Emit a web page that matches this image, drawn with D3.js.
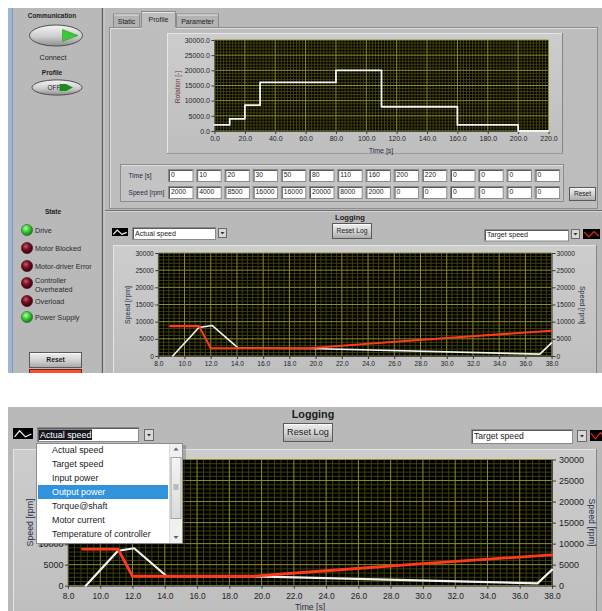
<!DOCTYPE html>
<html><head><meta charset="utf-8">
<script src="https://cdn.jsdelivr.net/npm/d3@7/dist/d3.min.js"></script>
<style>
html,body{margin:0;padding:0;background:#fff;overflow:hidden}
svg{display:block;font-family:"Liberation Sans",Arial,sans-serif}
</style></head><body>
<svg id="c" width="602" height="611"></svg>
<script>
// ---------------- data ----------------
const profileTime  = [0, 10, 20, 30, 50, 80, 110, 160, 200, 220, 0, 0, 0, 0];
const profileSpeed = [2000, 4000, 8500, 16000, 16000, 20000, 8000, 2000, 0, 0, 0, 0, 0, 0];
const profileXTicks = [0, 20, 40, 60, 80, 100, 120, 140, 160, 180, 200, 220];
const profileYTicks = [0, 5000, 10000, 15000, 20000, 25000, 30000];
const logXTicks = [8, 10, 12, 14, 16, 18, 20, 22, 24, 26, 28, 30, 32, 34, 36, 38];
const logYTicks = [0, 5000, 10000, 15000, 20000, 25000, 30000];
const actualTime  = [9.1, 11.1, 12.1, 14.1, 19.5, 37.1, 38.0];
const actualSpeed = [0, 8300, 8900, 2300, 2200, 550, 3800];
const targetTime  = [8.9, 11.1, 12.0, 19.5, 24.0, 30.0, 38.0];
const targetSpeed = [8700, 8700, 2250, 2250, 3550, 5250, 7350];
const stateLabels = ["Drive", "Motor Blocked", "Motor-driver Error", "Controller|Overheated", "Overload", "Power Supply"];
const stateOn     = [true, false, false, false, false, true];
const tabLabels   = ["Static", "Profile", "Parameter"];
const channelItems = ["Actual speed", "Target speed", "Input power", "Output power", "Torque@shaft", "Motor current", "Temperature of controller"];
const leftChannel = "Actual speed";
const rightChannel = "Target speed";
const highlightedItem = "Output power";

// ---------------- helpers ----------------
const svg = d3.select("#c");
const defs = svg.append("defs");
function lg(id, stops){
  const g = defs.append("linearGradient").attr("id", id).attr("x1",0).attr("y1",0).attr("x2",0).attr("y2",1);
  stops.forEach(([o,c]) => g.append("stop").attr("offset", o).attr("stop-color", c));
}
function rg(id, stops){
  const g = defs.append("radialGradient").attr("id", id).attr("cx","40%").attr("cy","35%").attr("r","65%");
  stops.forEach(([o,c]) => g.append("stop").attr("offset", o).attr("stop-color", c));
}
lg("btn", [[0,"#efefef"],[0.5,"#d4d4d4"],[1,"#a8a8a8"]]);
lg("oval", [[0,"#f4f4f4"],[0.55,"#cdcdcd"],[1,"#8e8e8e"]]);
lg("frame", [[0,"#cdcdcd"],[1,"#bebebe"]]);
lg("thumb", [[0,"#f4f4f4"],[1,"#dadada"]]);
lg("redbar", [[0,"#ff5a3a"],[1,"#e8321c"]]);
rg("ledG", [[0,"#b8ffb0"],[0.45,"#3fd23f"],[1,"#157a15"]]);
rg("ledR", [[0,"#c85a6a"],[0.45,"#7a1024"],[1,"#3a0010"]]);

function rect(p,x,y,w,h,fill,stroke,sw){
  const r = p.append("rect").attr("x",x).attr("y",y).attr("width",w).attr("height",h).attr("fill",fill||"none");
  if(stroke) r.attr("stroke",stroke).attr("stroke-width",sw||1);
  return r;
}
function line(p,x1,y1,x2,y2,c,w){
  return p.append("line").attr("x1",x1).attr("y1",y1).attr("x2",x2).attr("y2",y2).attr("stroke",c).attr("stroke-width",w||1);
}
function txt(p,x,y,s,size,opt){
  opt = opt||{};
  const t = p.append("text").attr("x",x).attr("y",y).text(s).attr("font-size",size)
    .attr("fill",opt.fill||"#1c1c1c").attr("text-anchor",opt.anchor||"start");
  if(opt.bold) t.attr("font-weight","bold");
  if(opt.rotate!==undefined) t.attr("transform",`rotate(${opt.rotate},${x},${y})`);
  return t;
}
function bevel(p,x,y,w,h,fill,light,dark){
  rect(p,x,y,w,h,fill);
  line(p,x,y+0.5,x+w,y+0.5,light);
  line(p,x+0.5,y,x+0.5,y+h,light);
  line(p,x,y+h-0.5,x+w,y+h-0.5,dark);
  line(p,x+w-0.5,y,x+w-0.5,y+h,dark);
}
function button(p,x,y,w,h,label,size,bold){
  rect(p,x+0.5,y+0.5,w,h,"url(#btn)","#5a5a5a",1);
  line(p,x+1.5,y+1.5,x+w-0.5,y+1.5,"#fafafa");
  txt(p,x+w/2+0.5,y+h/2+size*0.36,label,size,{anchor:"middle",bold:bold});
}
function textbox(p,x,y,w,h,label,size){
  rect(p,x+0.5,y+0.5,w,h,"#ffffff","#8a8a8a",1);
  line(p,x+1,y+1.5,x+w,y+1.5,"#5a5a5a",1);
  line(p,x+1.5,y+1,x+1.5,y+h,"#5a5a5a",1);
  if(label!==null && label!==undefined) txt(p,x+3,y+h/2+size*0.36,label,size);
}
function arrowBox(p,x,y,w,h){
  rect(p,x+0.5,y+0.5,w,h,"#d8d8d8","#6a6a6a",1);
  const cx=x+w/2+0.5, cy=y+h/2+0.5;
  p.append("path").attr("d",`M${cx-2},${cy-1} L${cx+2},${cy-1} L${cx},${cy+1.5} Z`).attr("fill","#333");
}
function legendIcon(p,x,y,w,h,color,shape){
  rect(p,x,y,w,h,"#000");
  const pts = shape.map(([a,b]) => [x+a*w, y+b*h]);
  p.append("path").attr("d", d3.line()(pts)).attr("fill","none").attr("stroke",color).attr("stroke-width",1.2);
}
function led(p,cx,cy,on){
  p.append("circle").attr("cx",cx).attr("cy",cy).attr("r",5.6).attr("fill",on?"url(#ledG)":"url(#ledR)")
    .attr("stroke",on?"#2a6a2a":"#3a0a12").attr("stroke-width",0.6);
}

function plot(p,c){
  const x = d3.scaleLinear().domain(c.xDom).range([c.l,c.r]);
  const y = d3.scaleLinear().domain(c.yDom).range([c.b,c.t]);
  rect(p,c.l,c.t,c.r-c.l,c.b-c.t,"#000");
  const minor = (ticks,n) => { const out=[]; for(let i=0;i<ticks.length-1;i++){ for(let k=1;k<n;k++) out.push(ticks[i]+(ticks[i+1]-ticks[i])*k/n);} return out; };
  const g = p.append("g");
  minor(c.xTicks,c.xSub).forEach(v => line(g,x(v),c.t,x(v),c.b,"#454510",0.9));
  minor(c.yTicks,c.ySub).forEach(v => line(g,c.l,y(v),c.r,y(v),"#454510",0.9));
  c.xTicks.forEach(v => line(g,x(v),c.t,x(v),c.b,"#8e8e2a",1));
  c.yTicks.forEach(v => line(g,c.l,y(v),c.r,y(v),"#8e8e2a",1));
  const style = (ga,fs) => {
    ga.select(".domain").attr("stroke","#4a4a4a");
    ga.selectAll(".tick line").attr("stroke","#3a3a3a");
    ga.selectAll("text").attr("font-size",fs).attr("fill","#1e1e1e").attr("font-family","'Liberation Sans',Arial,sans-serif");
  };
  const gx = p.append("g").attr("transform",`translate(0,${c.b})`)
    .call(d3.axisBottom(x).tickValues(c.xTicks).tickFormat(c.fx).tickSize(3).tickSizeOuter(0).tickPadding(c.xPad||2));
  style(gx,c.fsx||c.fs);
  const gy = p.append("g").attr("transform",`translate(${c.l},0)`)
    .call(d3.axisLeft(y).tickValues(c.yTicks).tickFormat(c.fy).tickSize(3).tickSizeOuter(0).tickPadding(1.5));
  style(gy,c.fs);
  // labels covered by an overlay (the open drop-down list) are not shown
  if(c.coverAbove!==undefined) gy.selectAll(".tick").filter(v => y(v) < c.coverAbove).select("text").remove();
  if(c.right){
    const gr = p.append("g").attr("transform",`translate(${c.r},0)`)
      .call(d3.axisRight(y).tickValues(c.yTicks).tickFormat(c.fy).tickSize(4).tickSizeOuter(0).tickPadding(c.rPad||0.5));
    style(gr,c.fs);
  }
  c.series.forEach(s => {
    p.append("path").datum(s.pts)
      .attr("d", d3.line().curve(s.curve||d3.curveLinear).x(d=>x(d[0])).y(d=>y(d[1])))
      .attr("fill","none").attr("stroke",s.color).attr("stroke-width",s.w)
      .attr("stroke-linejoin","round").attr("stroke-linecap","round");
  });
  return {x,y};
}

// profile points actually used (time strictly increasing)
const usedProfile = [];
for(let i=0;i<profileTime.length;i++){ if(i>0 && profileTime[i]<=profileTime[i-1]) break; usedProfile.push([profileTime[i],profileSpeed[i]]); }
const actualPts = d3.zip(actualTime, actualSpeed);
const targetPts = d3.zip(targetTime, targetSpeed);
const fmt1 = d3.format(".1f");
const fmt0 = d3.format("d");
const zigW = [[0.08,0.8],[0.33,0.25],[0.62,0.8],[0.92,0.55]];
const zigR = [[0.06,0.3],[0.35,0.8],[0.65,0.25],[0.94,0.7]];

// ================= TOP SCREENSHOT =================
defs.append("clipPath").attr("id","clipT").append("rect").attr("x",8).attr("y",8).attr("width",594).attr("height",365);
defs.append("clipPath").attr("id","clipB").append("rect").attr("x",8).attr("y",407).attr("width",594).attr("height",204);
const T = svg.append("g").attr("clip-path","url(#clipT)");
rect(T,8,8,594,365,"#b9b9b9");
rect(T,8,8,4.5,365,"#9db7d4");
line(T,12.5,8,12.5,373,"#7f99b8",1);
line(T,102.5,8,102.5,373,"#5e5e5e",1.3);
line(T,104,8,104,373,"#d2d2d2",1);

// left panel: communication
txt(T,52,18,"Communication",6.4,{anchor:"middle",bold:true});
T.append("ellipse").attr("cx",56).attr("cy",35.5).attr("rx",26.5).attr("ry",10.5).attr("fill","url(#oval)").attr("stroke","#4e4e4e").attr("stroke-width",1);
T.append("path").attr("d","M62.5,29.5 L78,35.5 L62.5,41.5 Z").attr("fill","#3cc83c").attr("stroke","#2a9a2a").attr("stroke-width",0.6).attr("stroke-linejoin","round");
txt(T,53,60,"Connect",7.2,{anchor:"middle"});
txt(T,52,75,"Profile",6.6,{anchor:"middle",bold:true});
T.append("ellipse").attr("cx",57).attr("cy",87.5).attr("rx",25).attr("ry",7.6).attr("fill","url(#oval)").attr("stroke","#4e4e4e").attr("stroke-width",1);
txt(T,54,90,"OFF",6.4,{anchor:"middle"});
T.append("path").attr("d","M59.5,84 L66,84 L73,87.5 L66,91 L59.5,91 Z").attr("fill","#1f8a1f");

// state
txt(T,53,214,"State",6.6,{anchor:"middle",bold:true});
const stateY = [230, 248, 266, 283, 301, 317];
stateLabels.forEach((s,i) => {
  led(T,27,stateY[i],stateOn[i]);
  const parts = s.split("|");
  if(parts.length===1) txt(T,35,stateY[i]+2.6,s,7.2,{fill:"#2a2a2a"});
  else { txt(T,35,stateY[i]-0.5,parts[0],7.2,{fill:"#2a2a2a"}); txt(T,35,stateY[i]+8.5,parts[1],7.2,{fill:"#2a2a2a"}); }
});
button(T,29,352,52,15,"Reset",6.8,true);
rect(T,29.5,369.5,52,8,"url(#redbar)","#7a1a10",1);

// tabs
const tabX = [113, 141, 176], tabW = [26, 34, 42];
tabLabels.forEach((s,i) => {
  const sel = i===1;
  const ty = sel?11:13.5;
  rect(T,tabX[i]+0.5,ty+0.5,tabW[i],28-ty,sel?"#bebebe":"#b3b3b3","#8a8a8a",1);
  line(T,tabX[i]+1,ty+1.5,tabX[i]+tabW[i],ty+1.5,"#e4e4e4");
  txt(T,tabX[i]+tabW[i]/2+0.5,sel?22:24,s,7,{anchor:"middle"});
});
rect(T,109.5,27.5,488,181,"#bdbdbd","#8c8c8c",1);
line(T,110.5,28.5,597,28.5,"#dedede");
line(T,110.5,28.5,110.5,208,"#dedede");
rect(T,141.5,27,34,2.5,"#bebebe");
line(T,105,210.5,602,210.5,"#6c6c6c",1);
line(T,105,211.5,602,211.5,"#d6d6d6",1);

// profile chart
bevel(T,167,33,396,121,"url(#frame)","#e6e6e6","#858585");
line(T,168,153.5,563,153.5,"#9a9a9a");
plot(T,{l:214.5,r:548.5,t:40,b:131,xDom:[0,220],yDom:[0,30000],xTicks:profileXTicks,yTicks:profileYTicks,
  xSub:10,ySub:5,fx:fmt1,fy:fmt1,fs:7,
  series:[{pts:usedProfile,color:"#f4f4f4",w:1.8,curve:d3.curveStepAfter}]});
txt(T,179.5,87,"Rotation [-]",6.6,{anchor:"middle",rotate:-90,fill:"#6a3a34"});
txt(T,381,153,"Time [s]",7,{anchor:"middle",fill:"#2a2f48"});

// table
rect(T,120.5,164.5,443,37,"#c4c4c4","#8c8c8c",1);
line(T,121.5,165.5,563,165.5,"#e0e0e0");
txt(T,128.5,178,"Time [s]",6.6,{fill:"#262c48"});
txt(T,128.5,195,"Speed [rpm]",6.6,{fill:"#262c48"});
profileTime.forEach((v,i) => textbox(T,168+i*28.2,169,24.5,12,String(v),6.8));
profileSpeed.forEach((v,i) => textbox(T,168+i*28.2,186,24.5,12,String(v),6.8));
button(T,569,187,26,13,"Reset",6.6,false);

// logging header
txt(T,350,219.5,"Logging",7.6,{anchor:"middle",bold:true});
button(T,332,223,39,15,"Reset Log",6.8,false);
legendIcon(T,112,228,16,8,"#f0f0f0",zigW);
textbox(T,132,227,83,12,leftChannel,7.1);
arrowBox(T,218,228,8,9);
textbox(T,484,229,84,11.5,rightChannel,7.1);
arrowBox(T,571,229,8,9);
legendIcon(T,583,229,17,10,"#e8281a",zigR);

// logging chart (top)
bevel(T,113,245,484,140,"url(#frame)","#e4e4e4","#858585");
plot(T,{l:158.3,r:551.6,t:253,b:356,xDom:[8,38],yDom:[0,30000],xTicks:logXTicks,yTicks:logYTicks,
  xSub:5,ySub:5,fx:fmt1,fy:fmt0,fs:6.6,right:true,rPad:1,
  series:[{pts:actualPts,color:"#f2f2f2",w:1.6},{pts:targetPts,color:"#ff3a1c",w:2.1}]});
txt(T,130,305,"Speed [rpm]",7,{anchor:"middle",rotate:-90,fill:"#262c48"});
txt(T,580,305,"Speed [rpm]",7,{anchor:"middle",rotate:90,fill:"#262c48"});
txt(T,355,379,"Time [s]",7,{anchor:"middle",fill:"#2a2f48"});

// ================= BOTTOM SCREENSHOT =================
const B = svg.append("g").attr("clip-path","url(#clipB)");
rect(B,8,407,594,204,"#b9b9b9");
txt(B,313,417.5,"Logging",10.8,{anchor:"middle",bold:true});
button(B,283,423,49,18,"Reset Log",9.2,false);
legendIcon(B,13,428,20,11,"#f0f0f0",zigW);
textbox(B,37,427,101,14,null,9);
rect(B,39,429.5,53,10.5,"#161620");
txt(B,40,438,leftChannel,8.9,{fill:"#ffffff"});
arrowBox(B,144,429,9,11);
textbox(B,471,429,101,14,rightChannel,8.6);
arrowBox(B,577,430,9,11);
legendIcon(B,590,430,16,11,"#e8281a",zigR);

bevel(B,13,449,584,170,"url(#frame)","#e4e4e4","#858585");
plot(B,{l:68,r:552,t:459.5,b:585.7,xDom:[8,38],yDom:[0,30000],xTicks:logXTicks,yTicks:logYTicks,
  xSub:5,ySub:5,fx:fmt1,fy:fmt0,fs:9,fsx:8.4,xPad:4,right:true,rPad:3,coverAbove:541,
  series:[{pts:actualPts,color:"#f2f2f2",w:2.2},{pts:targetPts,color:"#ff3a1c",w:2.8}]});
txt(B,33,522.5,"Speed [rpm]",8.8,{anchor:"middle",rotate:-90,fill:"#262c48"});
txt(B,589,522.5,"Speed [rpm]",8.8,{anchor:"middle",rotate:90,fill:"#262c48"});
txt(B,310,609.5,"Time [s]",8.6,{anchor:"middle",fill:"#2a2f48"});

// drop-down menu (open list over the chart)
rect(B,38,445,148,101,"rgba(0,0,0,0.18)");
rect(B,36.5,443.5,146,100,"#ffffff","#8c8c8c",1);
channelItems.forEach((s,i) => {
  const cy = 450 + i*14;
  const hi = s===highlightedItem;
  if(hi) rect(B,38,cy-7,130,14,"#3193db");
  txt(B,52,cy+3.2,s,8.9,{fill:hi?"#ffffff":"#1c1c1c"});
});
rect(B,169.5,444,12.5,99,"#f0f0f0");
line(B,169.5,444,169.5,543,"#dcdcdc");
B.append("path").attr("d","M173.5,450.5 L178.5,450.5 L176,447.5 Z").attr("fill","#606060");
B.append("path").attr("d","M173.5,536 L178.5,536 L176,539 Z").attr("fill","#606060");
rect(B,171,457.5,10,61,"url(#thumb)","#a4a4a4",1);
[485,487,489].forEach(yy => line(B,173.5,yy,178.5,yy,"#7a7a7a",0.8));
</script>
</body></html>
